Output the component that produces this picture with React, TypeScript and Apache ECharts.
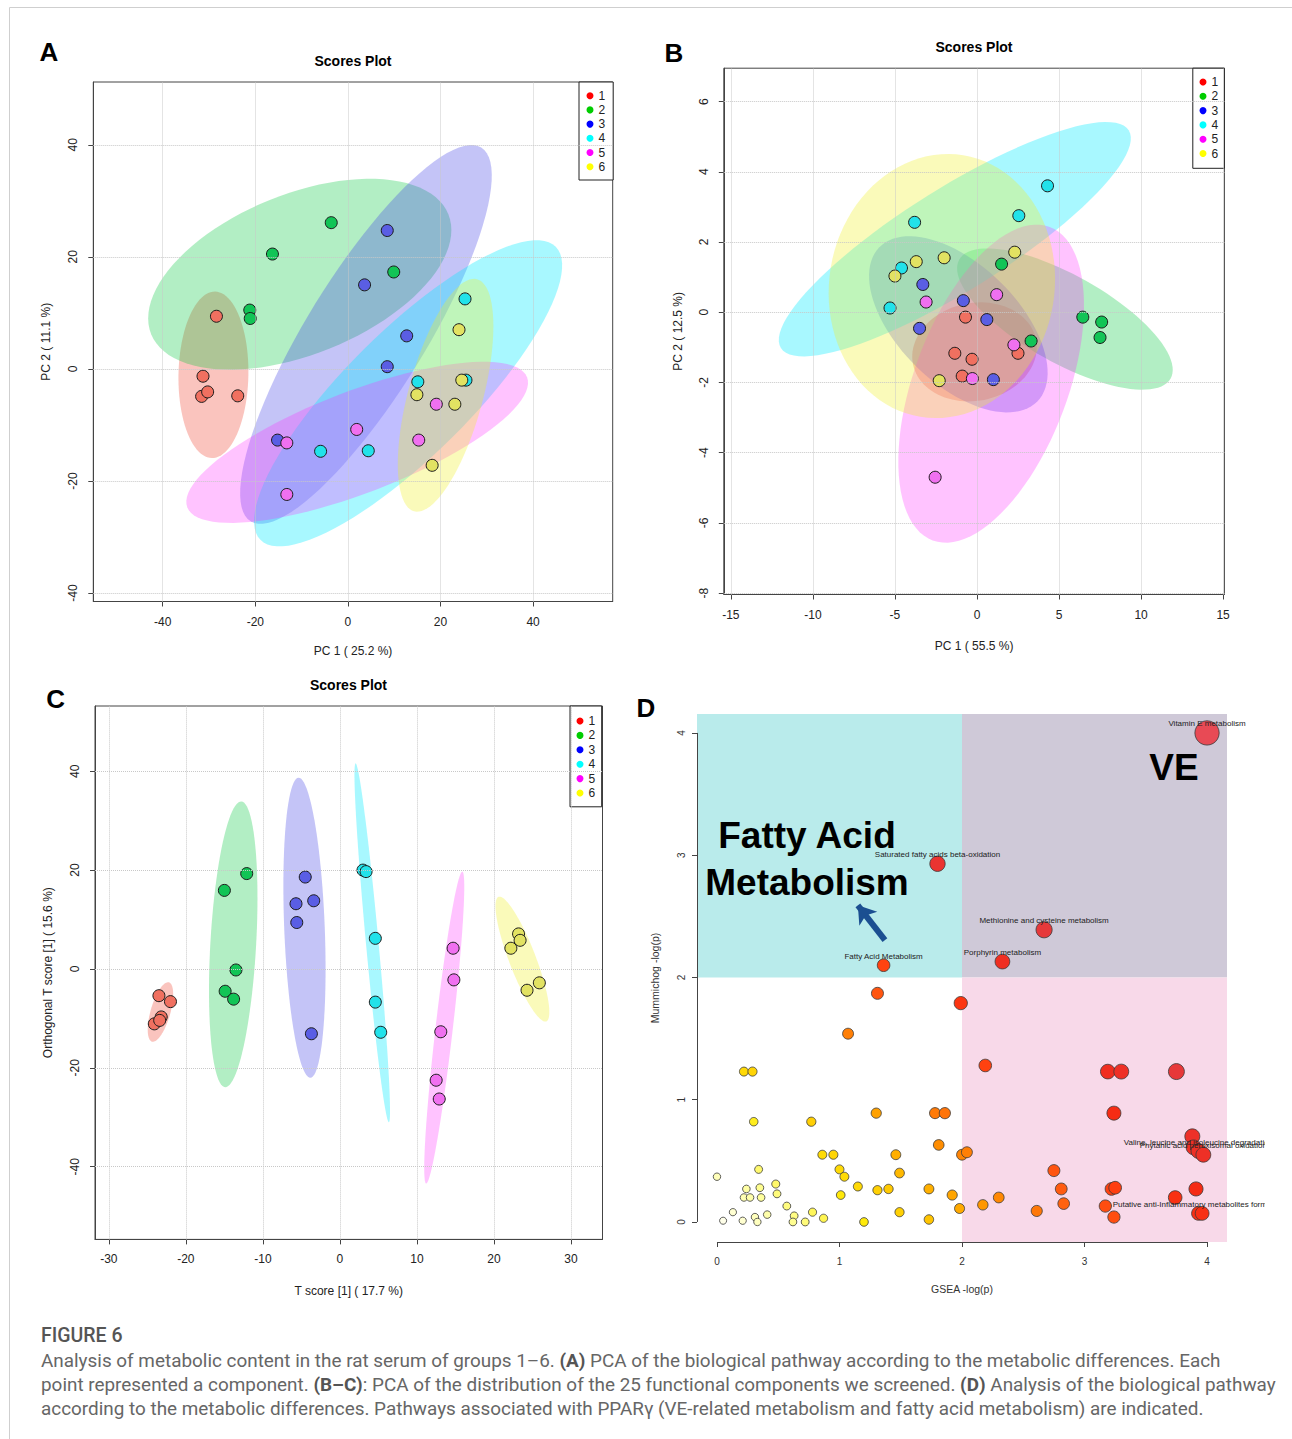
import React, { useEffect, useRef } from "react";
import * as echarts from "echarts";

const SANS = '"Liberation Sans", Arial, Helvetica, sans-serif';
const CAP = 'Roboto, "Open Sans", sans-serif';

// ---------- shared groups ----------
const groups = ["1", "2", "3", "4", "5", "6"];
const legendColors = ["#FF0000", "#00CD00", "#0000FF", "#00FFFF", "#FF00FF", "#FFFF00"];
const pointColors = ["#F07060", "#12C456", "#5A5EE4", "#22E2EA", "#F070F0", "#E2E262"];
const ellipseFills = [
  "rgba(240,60,40,0.30)",
  "rgba(0,200,60,0.30)",
  "rgba(60,60,230,0.30)",
  "rgba(0,235,255,0.34)",
  "rgba(255,40,255,0.28)",
  "rgba(240,240,40,0.32)",
];

// ---------- Panel A ----------
const aTicksX = [-40, -20, 0, 20, 40];
const aTicksY = [-40, -20, 0, 20, 40];
const aRangeX = [-55, 57.2];
const aRangeY = [-41.5, 51.2];
const aPC1 = [
  [-28.4, -31.3, -31.6, -30.3, -23.8],
  [-3.6, -16.3, 9.9, -21.2, -21.1],
  [8.5, 3.6, 12.7, 8.5, -15.2],
  [25.3, 15.1, 25.5, -5.9, 4.4],
  [1.9, -13.2, 19.1, 15.3, -13.2],
  [24.0, 24.6, 14.9, 23.1, 18.2],
];
const aPC2 = [
  [9.4, -1.3, -4.9, -4.1, -4.8],
  [26.1, 20.5, 17.3, 10.5, 9.0],
  [24.7, 15.0, 5.9, 0.4, -12.7],
  [12.5, -2.3, -2.0, -14.7, -14.6],
  [-10.8, -13.2, -6.3, -12.7, -22.4],
  [7.0, -2.0, -4.6, -6.3, -17.2],
];
// ellipse: major-axis end 1 (x,y), end 2 (x,y), minor/major ratio
const aEllipses = [
  [-28.7, 13.8, -29.4, -15.9, 0.42],
  [-42.5, 6.2, 21.7, 27.6, 0.5],
  [-21.0, -27.2, 28.8, 39.5, 0.27],
  [-18.9, -30.5, 44.9, 21.8, 0.3],
  [-34.7, -24.7, 38.7, -1.5, 0.28],
  [27.9, 16.0, 14.3, -25.4, 0.31],
];

// ---------- Panel B ----------
const bTicksX = [-15, -10, -5, 0, 5, 10, 15];
const bTicksY = [-8, -6, -4, -2, 0, 2, 4, 6];
const bRangeX = [-15.43, 15.08];
const bRangeY = [-8.04, 6.95];
const bPC1 = [
  [-0.7, -1.35, -0.3, -0.9, 2.5],
  [1.5, 6.45, 7.6, 7.5, 3.3],
  [-3.3, -0.83, -3.5, 0.6, 1.0],
  [4.3, 2.55, -3.8, -4.6, -5.3],
  [-3.1, 1.2, 2.25, -0.28, -2.55],
  [-2.0, -3.7, -5.0, 2.3, -2.3],
];
const bPC2 = [
  [-0.14, -1.17, -1.34, -1.82, -1.17],
  [1.37, -0.14, -0.28, -0.72, -0.82],
  [0.79, 0.33, -0.46, -0.21, -1.92],
  [3.6, 2.75, 2.56, 1.26, 0.12],
  [0.29, 0.5, -0.93, -1.89, -4.7],
  [1.55, 1.44, 1.03, 1.71, -1.95],
];
const bEllipses = [
  [-3.9, -1.48, 3.6, -0.78, 0.78],
  [-1.08, 1.5, 11.8, -1.89, 0.36],
  [-5.95, 1.85, 3.68, -2.54, 0.54],
  [-11.95, -1.02, 9.25, 5.18, 0.25],
  [4.43, 2.43, -2.7, -6.5, 0.46],
  [-0.83, 4.47, -3.45, -2.98, 0.85],
];

// ---------- Panel C ----------
const cTicksX = [-30, -20, -10, 0, 10, 20, 30];
const cTicksY = [-40, -20, 0, 20, 40];
const cRangeX = [-31.8, 34.1];
const cRangeY = [-54.7, 53.2];
const cTScore = [
  [-23.5, -22.0, -23.2, -24.1, -23.4],
  [-12.1, -15.0, -13.5, -14.9, -13.8],
  [-4.5, -5.7, -3.4, -5.6, -3.7],
  [3.0, 3.4, 4.6, 4.6, 5.3],
  [14.7, 14.8, 13.1, 12.5, 12.9],
  [23.2, 23.4, 22.2, 24.3, 25.9],
];
const cOrthoScore = [
  [-5.4, -6.6, -9.7, -11.1, -10.4],
  [19.3, 15.9, -0.2, -4.5, -6.1],
  [18.6, 13.2, 13.8, 9.4, -13.1],
  [20.0, 19.7, 6.2, -6.7, -12.8],
  [4.2, -2.2, -12.7, -22.5, -26.3],
  [7.1, 5.8, 4.2, -4.3, -2.8],
];
const cEllipses = [
  [-22.2, -2.7, -24.4, -14.7, 0.32],
  [-12.8, 33.9, -14.9, -23.9, 0.16],
  [-5.37, 38.7, -3.83, -22.0, 0.135],
  [2.04, 41.6, 6.36, -31.0, 0.035],
  [15.9, 19.7, 11.2, -43.4, 0.055],
  [20.6, 14.6, 26.8, -10.6, 0.2],
];

// ---------- Panel D ----------
const dTicks = [0, 1, 2, 3, 4];
const dRangeX = [-0.163, 4.163];
const dRangeY = [-0.164, 4.155];
const dThreshold = 2;
const dGsea = [
  4.0, 1.8, 2.67, 2.33, 1.36, 1.31, 1.99, 1.07, 2.19, 0.22, 0.29, 3.19, 3.3, 3.75,
  3.24, 3.88, 3.89, 3.93, 3.97, 2.75, 2.81, 2.83, 2.61, 3.22, 3.25, 3.17, 3.24, 3.74, 3.91, 3.93, 3.96,
  0.0, 0.05, 0.13, 0.21, 0.24, 0.22, 0.27, 0.3, 0.31, 0.33, 0.34, 0.35, 0.36, 0.41, 0.48, 0.49,
  0.57, 0.63, 0.62, 0.72, 0.77, 0.78, 0.86, 0.87, 0.95, 1.0, 1.04, 1.01, 1.15, 1.2, 1.3, 1.31,
  1.4, 1.46, 1.49, 1.49, 1.73, 1.73, 1.78, 1.86, 1.81, 1.92, 1.98, 2.0, 2.04, 2.17, 2.3,
];
const dMummichog = [
  4.0, 2.93, 2.39, 2.13, 2.1, 1.87, 1.79, 1.54, 1.28, 1.23, 1.23, 1.23, 1.23, 1.23,
  0.89, 0.7, 0.61, 0.58, 0.55, 0.42, 0.27, 0.15, 0.09, 0.27, 0.28, 0.13, 0.04, 0.2, 0.27, 0.07, 0.07,
  0.37, 0.01, 0.08, 0.01, 0.27, 0.2, 0.2, 0.82, 0.04, 0.0, 0.43, 0.28, 0.2, 0.06, 0.31, 0.23,
  0.13, 0.05, 0.0, 0.0, 0.82, 0.08, 0.55, 0.03, 0.55, 0.43, 0.37, 0.22, 0.29, 0.0, 0.89, 0.26,
  0.27, 0.55, 0.4, 0.08, 0.27, 0.02, 0.89, 0.89, 0.63, 0.22, 0.11, 0.55, 0.57, 0.14, 0.2,
];
const dLabelled: [number, string][] = [
  [0, "Vitamin E metabolism"],
  [1, "Saturated fatty acids beta-oxidation"],
  [2, "Methionine and cysteine metabolism"],
  [3, "Porphyrin metabolism"],
  [4, "Fatty Acid Metabolism"],
  [17, "Valine, leucine and isoleucine degradation"],
  [18, "Phytanic acid peroxisomal oxidation"],
  [29, "Putative anti-Inflammatory metabolites formation"],
];
const dArrowFrom = [1.371, 2.305];
const dArrowTo = [1.15, 2.59];
const heatColors = [
  "#FFFFF2", "#FFFF96", "#FFEA0A", "#FFC000", "#FF9000", "#FF6010", "#FF3A10",
  "#F52A14", "#E83535", "#E43E42", "#E4424A", "#E6464F", "#E84A55",
];

const captionLines = [
  "Analysis of metabolic content in the rat serum of groups 1–6. {b|(A)} PCA of the biological pathway according to the metabolic differences. Each",
  "point represented a component. {b|(B–C)}: PCA of the distribution of the 25 functional components we screened. {b|(D)} Analysis of the biological pathway",
  "according to the metabolic differences. Pathways associated with PPARγ (VE-related metabolism and fatty acid metabolism) are indicated.",
];

type ScorePanel = {
  grid: { left: number; top: number; width: number; height: number };
  rangeX: number[];
  rangeY: number[];
  ticksX: number[];
  ticksY: number[];
  xs: number[][];
  ys: number[][];
  ellipses: number[][];
  xName: string;
  yName: string;
  xGap: number;
  yGap: number;
  legend: { left: number; top: number; padding: number[]; gap: number };
};

const scorePanels: ScorePanel[] = [
  {
    grid: { left: 93.3, top: 82, width: 519.4, height: 519.5 },
    rangeX: aRangeX, rangeY: aRangeY, ticksX: aTicksX, ticksY: aTicksY,
    xs: aPC1, ys: aPC2, ellipses: aEllipses,
    xName: "PC 1 ( 25.2 %)", yName: "PC 2 ( 11.1 %)", xGap: 43.5, yGap: 41.3,
    legend: { left: 579, top: 82, padding: [7.7, 8, 7.3, 7.5], gap: 2.2 },
  },
  {
    grid: { left: 723.8, top: 68.2, width: 500.6, height: 526.3 },
    rangeX: bRangeX, rangeY: bRangeY, ticksX: bTicksX, ticksY: bTicksY,
    xs: bPC1, ys: bPC2, ellipses: bEllipses,
    xName: "PC 1 ( 55.5 %)", yName: "PC 2 ( 12.5 %)", xGap: 45.5, yGap: 39.8,
    legend: { left: 1192.8, top: 68.2, padding: [7.8, 6.2, 8.8, 6.7], gap: 2.3 },
  },
  {
    grid: { left: 95, top: 706, width: 507.5, height: 533.4 },
    rangeX: cRangeX, rangeY: cRangeY, ticksX: cTicksX, ticksY: cTicksY,
    xs: cTScore, ys: cOrthoScore, ellipses: cEllipses,
    xName: "T score [1] ( 17.7 %)", yName: "Orthogonal T score [1] ( 15.6 %)", xGap: 45.6, yGap: 40.6,
    legend: { left: 570, top: 706, padding: [9, 6.5, 7.8, 6.5], gap: 2.4 },
  },
];

function ellipseRender(params: any, api: any) {
  const p1 = api.coord([api.value(0), api.value(1)]);
  const p2 = api.coord([api.value(2), api.value(3)]);
  const ratio = api.value(4);
  const gi = api.value(5);
  const cx = (p1[0] + p2[0]) / 2;
  const cy = (p1[1] + p2[1]) / 2;
  const a = Math.hypot(p2[0] - p1[0], p2[1] - p1[1]) / 2;
  const b = a * ratio;
  const ang = Math.atan2(p2[1] - p1[1], p2[0] - p1[0]);
  const ca = Math.cos(ang);
  const sa = Math.sin(ang);
  const pts: number[][] = [];
  const n = 96;
  for (let k = 0; k < n; k++) {
    const t = (2 * Math.PI * k) / n;
    const ex = a * Math.cos(t);
    const ey = b * Math.sin(t);
    pts.push([cx + ex * ca - ey * sa, cy + ex * sa + ey * ca]);
  }
  return {
    type: "polygon",
    shape: { points: pts },
    style: { fill: ellipseFills[gi], stroke: "none" },
    silent: true,
  };
}

function buildOption() {
  const grid: any[] = [];
  const xAxis: any[] = [];
  const yAxis: any[] = [];
  const series: any[] = [];
  const legend: any[] = [];

  scorePanels.forEach((p, gi) => {
    grid.push({ ...p.grid, show: true, borderColor: "#444", borderWidth: 1, backgroundColor: "transparent" });
    xAxis.push({
      gridIndex: gi, type: "value", min: p.rangeX[0], max: p.rangeX[1],
      axisLine: { show: true, onZero: false, lineStyle: { color: "#444", width: 1 } },
      axisTick: { show: true, customValues: p.ticksX, length: 5, lineStyle: { color: "#444" } },
      axisLabel: { customValues: p.ticksX, fontSize: 12, color: "#222", margin: 14, fontFamily: SANS },
      splitLine: { show: false },
      name: p.xName, nameLocation: "middle", nameGap: p.xGap,
      nameTextStyle: { fontSize: 12, color: "#222", fontFamily: SANS },
    });
    yAxis.push({
      gridIndex: gi, type: "value", min: p.rangeY[0], max: p.rangeY[1],
      axisLine: { show: true, onZero: false, lineStyle: { color: "#444", width: 1 } },
      axisTick: { show: true, customValues: p.ticksY, length: 5, lineStyle: { color: "#444" } },
      axisLabel: { customValues: p.ticksY, fontSize: 12, color: "#222", margin: 14, rotate: 90, fontFamily: SANS },
      splitLine: { show: false },
      name: p.yName, nameLocation: "middle", nameGap: p.yGap,
      nameTextStyle: { fontSize: 12, color: "#222", fontFamily: SANS },
    });
    // dotted grid lines at tick values
    series.push({
      type: "scatter", name: "grid" + gi, xAxisIndex: gi, yAxisIndex: gi, data: [], z: 1, silent: true,
      markLine: {
        silent: true, symbol: "none", animation: false,
        label: { show: false },
        lineStyle: { type: "dotted", color: "#c8c8c8", width: 1 },
        data: [...p.ticksX.map((v) => ({ xAxis: v })), ...p.ticksY.map((v) => ({ yAxis: v }))],
      },
    });
    series.push({
      type: "custom", name: "ellipse" + gi, xAxisIndex: gi, yAxisIndex: gi, z: 2, silent: true,
      renderItem: ellipseRender,
      encode: { x: [0, 2], y: [1, 3] },
      data: p.ellipses.map((e, i) => [...e, i]),
    });
    groups.forEach((g, k) => {
      series.push({
        type: "scatter", name: g, xAxisIndex: gi, yAxisIndex: gi, z: 3,
        symbol: "circle", symbolSize: 12,
        itemStyle: { color: pointColors[k], borderColor: "#1a1a1a", borderWidth: 1, opacity: 1 },
        data: p.xs[k].map((x, i) => [x, p.ys[k][i]]),
      });
    });
    legend.push({
      left: p.legend.left, top: p.legend.top, orient: "vertical", icon: "circle",
      itemWidth: 7, itemHeight: 7, itemGap: p.legend.gap, padding: p.legend.padding,
      borderColor: "#222", borderWidth: 1, backgroundColor: "#fff", selectedMode: false,
      itemStyle: { borderWidth: 0 },
      textStyle: { fontSize: 12, color: "#222", lineHeight: 12, fontFamily: SANS },
      data: groups.map((g, k) => ({ name: g, itemStyle: { color: legendColors[k], borderWidth: 0, opacity: 1 } })),
    });
  });

  // Panel D
  const gD = 3;
  grid.push({ left: 697, top: 714, width: 530, height: 528, show: false });
  xAxis.push({
    gridIndex: gD, type: "value", min: dRangeX[0], max: dRangeX[1],
    axisLine: { show: false, onZero: false },
    axisTick: { show: true, customValues: dTicks, length: 5, lineStyle: { color: "#444" } },
    axisLabel: { customValues: dTicks, fontSize: 10, color: "#333", margin: 14, fontFamily: SANS },
    splitLine: { show: false },
    name: "GSEA -log(p)", nameLocation: "middle", nameGap: 41,
    nameTextStyle: { fontSize: 10.5, color: "#333", fontFamily: SANS },
  });
  yAxis.push({
    gridIndex: gD, type: "value", min: dRangeY[0], max: dRangeY[1],
    axisLine: { show: false, onZero: false },
    axisTick: { show: true, customValues: dTicks, length: 5, lineStyle: { color: "#444" } },
    axisLabel: { customValues: dTicks, fontSize: 10, color: "#333", margin: 11, rotate: 90, fontFamily: SANS },
    splitLine: { show: false },
    name: "Mummichog -log(p)", nameLocation: "middle", nameGap: 37,
    nameTextStyle: { fontSize: 10.5, color: "#333", fontFamily: SANS },
  });
  series.push({
    type: "scatter", name: "quadrants", xAxisIndex: gD, yAxisIndex: gD, data: [], z: 1, silent: true,
    markArea: {
      silent: true,
      label: { show: false },
      data: [
        [{ coord: [dRangeX[0], dThreshold], itemStyle: { color: "#B9EBEB", opacity: 1 } }, { coord: [dThreshold, dRangeY[1]] }],
        [{ coord: [dThreshold, dThreshold], itemStyle: { color: "#CFC9D8", opacity: 1 } }, { coord: [dRangeX[1], dRangeY[1]] }],
        [{ coord: [dThreshold, dRangeY[0]], itemStyle: { color: "#F8D9E9", opacity: 1 } }, { coord: [dRangeX[1], dThreshold] }],
      ],
    },
  });
  const labelMap = new Map(dLabelled);
  const dPointIndex = series.length;
  series.push({
    type: "scatter", name: "pathways", xAxisIndex: gD, yAxisIndex: gD, z: 3,
    symbol: "circle",
    symbolSize: (v: number[]) => 7 + 1.2 * v[2] + 0.12 * v[2] * v[2],
    itemStyle: { borderColor: "#3a3a3a", borderWidth: 0.8, opacity: 1 },
    label: { show: false, position: "inside", offset: [0, -9], fontSize: 8, color: "#222", fontFamily: SANS },
    data: dGsea.map((x, i) => {
      const y = dMummichog[i];
      const nm = labelMap.get(i);
      const item: any = { value: [x, y, x + y] };
      if (nm) {
        item.name = nm;
        item.label = { show: true, formatter: nm };
      }
      return item;
    }),
  });
  series.push({
    type: "scatter", name: "axesD", xAxisIndex: gD, yAxisIndex: gD, data: [], z: 4, silent: true,
    markLine: {
      silent: true, symbol: "none", animation: false,
      label: { show: false },
      lineStyle: { type: "solid", color: "#444", width: 1 },
      data: [
        [{ coord: [dTicks[0], dRangeY[0]] }, { coord: [dTicks[dTicks.length - 1], dRangeY[0]] }],
        [{ coord: [dRangeX[0], dTicks[0]] }, { coord: [dRangeX[0], dTicks[dTicks.length - 1]] }],
        [
          { coord: dArrowFrom, symbol: "none", lineStyle: { color: "#1B4F91", width: 6, type: "solid" } },
          { coord: dArrowTo, symbol: "arrow", symbolSize: 17 },
        ],
      ],
    },
  });

  const txt = (text: string, x: number, y: number, size: number, weight = "bold", color = "#000", family = SANS, align = "center") => ({
    type: "text", x, y, silent: true, z: 50,
    style: {
      text, fill: color, fontSize: size, fontWeight: weight, fontFamily: family,
      align, verticalAlign: "middle", textAlign: align, textVerticalAlign: "middle",
    },
  });

  const graphic: any[] = [
    { type: "rect", silent: true, z: -10, shape: { x: 9.5, y: 7.5, width: 1400, height: 1500 }, style: { fill: "none", stroke: "#cfcfcf", lineWidth: 1 } },
    txt("A", 49, 52, 26),
    txt("B", 674, 52.6, 26),
    txt("C", 55.6, 699.4, 26),
    txt("D", 645.8, 707.5, 26),
    txt("Scores Plot", 353, 60.6, 14),
    txt("Scores Plot", 974, 47, 14),
    txt("Scores Plot", 348.5, 685, 14),
    txt("Fatty Acid", 807, 835.2, 37),
    txt("Metabolism", 807, 882, 37),
    txt("VE", 1174, 767, 37),
    { type: "rect", silent: true, z: 100, shape: { x: 1265, y: 1120, width: 40, height: 100 }, style: { fill: "#fff" } },
    txt("FIGURE 6", 41, 1335, 19.5, "500", "#555", CAP, "left"),
  ];
  captionLines.forEach((line, i) => {
    graphic.push({
      type: "text", x: 41, y: 1360 + i * 24, silent: true, z: 50,
      style: {
        text: line, fill: "#666", fontSize: 18.9, fontFamily: CAP,
        align: "left", verticalAlign: "middle", textAlign: "left", textVerticalAlign: "middle",
        rich: { b: { fontWeight: "bold", fill: "#555", fontSize: 18.9, fontFamily: CAP } },
      },
    });
  });

  return {
    animation: false,
    backgroundColor: "#fff",
    grid, xAxis, yAxis, series, legend, graphic,
    visualMap: [
      {
        type: "continuous", show: false, seriesIndex: dPointIndex, dimension: 2,
        min: 0, max: 7.2, inRange: { color: heatColors },
      },
    ],
  };
}

export default function App() {
  const ref = useRef<HTMLDivElement>(null);
  useEffect(() => {
    document.body.style.margin = "0";
    if (!ref.current) return;
    const chart = echarts.init(ref.current, null, { renderer: "svg" });
    chart.setOption(buildOption() as any);
    return () => chart.dispose();
  }, []);
  return <div ref={ref} style={{ width: 1292, height: 1439, background: "#fff" }} />;
}
